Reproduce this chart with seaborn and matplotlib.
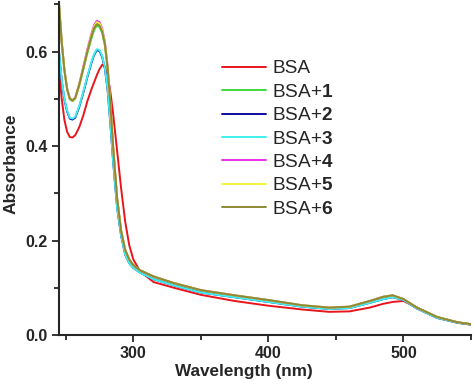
import numpy as np
import pandas as pd
import matplotlib
matplotlib.use('Agg')
import matplotlib.pyplot as plt
from matplotlib.ticker import MultipleLocator, FormatStrFormatter
import seaborn as sns

sns.set_style('ticks')
plt.rcParams['font.family'] = ['Liberation Sans', 'DejaVu Sans']
plt.rcParams['mathtext.fontset'] = 'custom'
plt.rcParams['mathtext.rm'] = 'Liberation Sans'
plt.rcParams['mathtext.bf'] = 'Liberation Sans:bold'

wavelength = [245, 247, 249, 251, 253, 255, 257, 260, 263, 266, 269, 271, 273, 275, 277,
              279, 281, 283, 285, 288, 291, 294, 297, 300, 305, 315, 330, 350, 375, 400,
              425, 445, 460, 475, 485, 492, 500, 510, 525, 540, 550]

bsa = [0.558, 0.50, 0.455, 0.43, 0.419, 0.418, 0.423, 0.44, 0.465, 0.495, 0.52, 0.535,
       0.55, 0.563, 0.572, 0.568, 0.55, 0.515, 0.47, 0.39, 0.31, 0.24, 0.19, 0.16, 0.135,
       0.112, 0.100, 0.085, 0.072, 0.062, 0.054, 0.049, 0.050, 0.058, 0.066, 0.070, 0.072,
       0.058, 0.037, 0.026, 0.022]
bsa_1 = [0.70, 0.62, 0.56, 0.52, 0.499, 0.495, 0.50, 0.528, 0.562, 0.597, 0.628, 0.646,
         0.655, 0.652, 0.639, 0.612, 0.562, 0.488, 0.40, 0.29, 0.22, 0.18, 0.16, 0.148,
         0.137, 0.123, 0.109, 0.094, 0.083, 0.073, 0.062, 0.057, 0.059, 0.071, 0.080,
         0.083, 0.076, 0.058, 0.038, 0.027, 0.023]
bsa_2 = [0.598, 0.538, 0.498, 0.473, 0.458, 0.456, 0.46, 0.483, 0.513, 0.546, 0.576,
         0.593, 0.603, 0.601, 0.588, 0.563, 0.518, 0.448, 0.37, 0.27, 0.21, 0.17, 0.152,
         0.142, 0.132, 0.118, 0.105, 0.090, 0.080, 0.070, 0.060, 0.055, 0.057, 0.068,
         0.076, 0.080, 0.074, 0.056, 0.036, 0.026, 0.022]
bsa_3 = [0.60, 0.54, 0.50, 0.475, 0.46, 0.458, 0.462, 0.485, 0.515, 0.548, 0.578, 0.595,
         0.605, 0.603, 0.59, 0.565, 0.52, 0.45, 0.37, 0.27, 0.21, 0.17, 0.152, 0.142, 0.132,
         0.118, 0.105, 0.090, 0.080, 0.070, 0.060, 0.055, 0.057, 0.068, 0.076, 0.080,
         0.074, 0.056, 0.036, 0.026, 0.022]
bsa_4 = [0.70, 0.62, 0.562, 0.522, 0.501, 0.497, 0.502, 0.532, 0.568, 0.605, 0.638, 0.656,
         0.665, 0.662, 0.648, 0.62, 0.568, 0.492, 0.40, 0.29, 0.22, 0.18, 0.16, 0.148,
         0.137, 0.124, 0.110, 0.095, 0.084, 0.074, 0.063, 0.058, 0.060, 0.072, 0.081,
         0.084, 0.076, 0.058, 0.038, 0.027, 0.023]
bsa_5 = [0.70, 0.62, 0.561, 0.521, 0.500, 0.496, 0.501, 0.531, 0.566, 0.602, 0.635, 0.653,
         0.662, 0.659, 0.645, 0.617, 0.566, 0.49, 0.40, 0.29, 0.22, 0.18, 0.16, 0.148,
         0.137, 0.124, 0.110, 0.095, 0.084, 0.074, 0.063, 0.058, 0.060, 0.072, 0.081,
         0.084, 0.076, 0.058, 0.038, 0.027, 0.023]
bsa_6 = [0.70, 0.62, 0.56, 0.52, 0.50, 0.496, 0.502, 0.53, 0.565, 0.60, 0.632, 0.65,
         0.658, 0.655, 0.642, 0.615, 0.565, 0.49, 0.40, 0.29, 0.22, 0.18, 0.16, 0.148,
         0.137, 0.124, 0.110, 0.095, 0.084, 0.074, 0.063, 0.058, 0.060, 0.072, 0.081,
         0.084, 0.076, 0.058, 0.038, 0.027, 0.023]

names = ['BSA', 'BSA+1', 'BSA+2', 'BSA+3', 'BSA+4', 'BSA+5', 'BSA+6']
labels = ['BSA', r'BSA+$\mathbf{1}$', r'BSA+$\mathbf{2}$', r'BSA+$\mathbf{3}$',
          r'BSA+$\mathbf{4}$', r'BSA+$\mathbf{5}$', r'BSA+$\mathbf{6}$']
colors = ['#e8161c', '#3ddc3d', '#0c0c9c', '#3ff0ee', '#ec32e6', '#f6f43a', '#8c8a34']

series = [bsa, bsa_1, bsa_2, bsa_3, bsa_4, bsa_5, bsa_6]
df = pd.concat([pd.DataFrame({'wl': wavelength, 'abs': s, 'sample': n})
                for n, s in zip(names, series)], ignore_index=True)

fig = plt.figure(figsize=(4.74, 3.84), dpi=100)
ax = fig.add_axes([0.1245, 0.1276, 0.8692, 0.8674])

sns.lineplot(data=df, x='wl', y='abs', hue='sample', hue_order=names,
             palette=dict(zip(names, colors)), linewidth=1.4, sort=False,
             estimator=None, ax=ax, legend=False)

ax.set_xlim(245, 550)
ax.set_ylim(0, 0.705)
ax.xaxis.set_major_locator(MultipleLocator(100))
ax.xaxis.set_minor_locator(MultipleLocator(50))
ax.yaxis.set_major_locator(MultipleLocator(0.2))
ax.yaxis.set_minor_locator(MultipleLocator(0.1))
ax.yaxis.set_major_formatter(FormatStrFormatter('%.1f'))
ax.tick_params(which='major', length=5, width=1.3, labelsize=11.5, pad=3)
ax.tick_params(which='minor', length=3.5, width=1.3)
for lab in ax.get_xticklabels() + ax.get_yticklabels():
    lab.set_fontweight('bold')
for s in ['left', 'bottom']:
    ax.spines[s].set_linewidth(1.5)
sns.despine(ax=ax)

ax.set_xlabel('Wavelength (nm)', fontsize=12.3, fontweight='bold')
ax.set_ylabel('Absorbance', fontsize=12.5, fontweight='bold')
ax.xaxis.set_label_coords(0.449, -0.087)
ax.yaxis.set_label_coords(-0.097, 0.515)

handles = ax.get_lines()[:len(names)]
ax.legend(handles, labels, loc='upper left', bbox_to_anchor=(0.373, 0.854),
          frameon=False, fontsize=13.7, handlelength=2.3, handletextpad=0.33,
          labelspacing=0.32, borderpad=0)

fig.savefig('out.png', dpi=100)
